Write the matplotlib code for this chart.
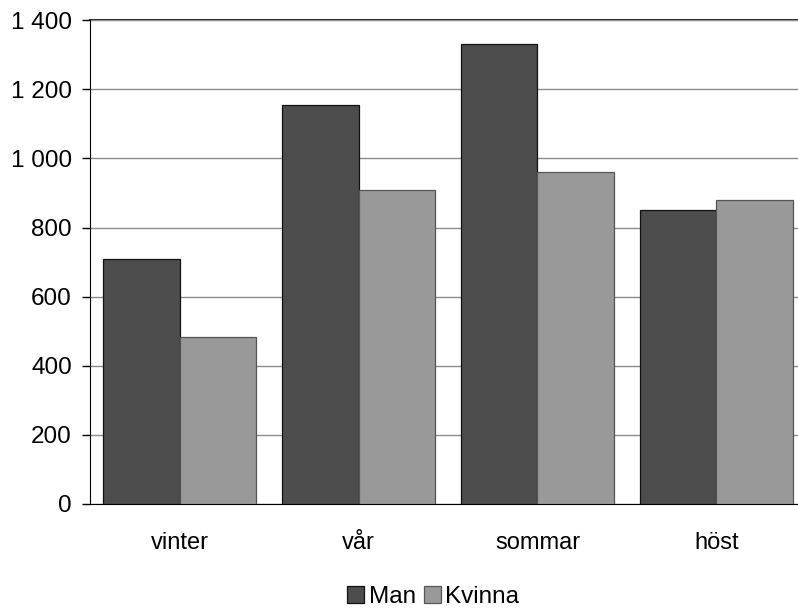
import numpy as np
import matplotlib.pyplot as plt
from matplotlib.ticker import FuncFormatter

plt.rcParams['font.family'] = ['Liberation Sans', 'DejaVu Sans']

seasons = ['vinter', 'vår', 'sommar', 'höst']
man = [710, 1155, 1330, 850]
kvinna = [482, 910, 960, 880]

fig = plt.figure(figsize=(7.98, 6.12), dpi=100)
ax = fig.add_axes([0.1128, 0.1765, 0.8972, 0.7905])

x = np.arange(len(seasons))
w = 0.43
ax.bar(x - w / 2, man, w, color='#4d4d4d', edgecolor='#111111', linewidth=0.9, label='Man', zorder=3)
ax.bar(x + w / 2, kvinna, w, color='#999999', edgecolor='#555555', linewidth=0.9, label='Kvinna', zorder=3)

ax.set_xlim(-0.5, len(seasons) - 0.5)
ax.set_ylim(0, 1400)
ax.set_yticks(range(0, 1401, 200))
ax.yaxis.set_major_formatter(FuncFormatter(lambda v, p: f'{int(v):,}'.replace(',', ' ')))
ax.set_xticks(x)
ax.set_xticklabels(seasons)
ax.tick_params(axis='x', length=0, pad=20, labelsize=17)
ax.tick_params(axis='y', length=6, width=1, direction='out', labelsize=17.5, pad=7)

ax.grid(axis='y', color='#8c8c8c', linewidth=1, zorder=0)
ax.axhline(1400, color='#333333', linewidth=1.5, zorder=1, clip_on=False)
for s in ['top', 'right']:
    ax.spines[s].set_visible(False)
ax.spines['left'].set_color('black')
ax.spines['bottom'].set_color('black')

fig.legend(loc='center', bbox_to_anchor=(0.543, 0.024), ncol=2, frameon=False,
           fontsize=17.5, handlelength=0.7, handleheight=0.7, handletextpad=0.2, columnspacing=0.3)

fig.savefig('out.png', dpi=100)
